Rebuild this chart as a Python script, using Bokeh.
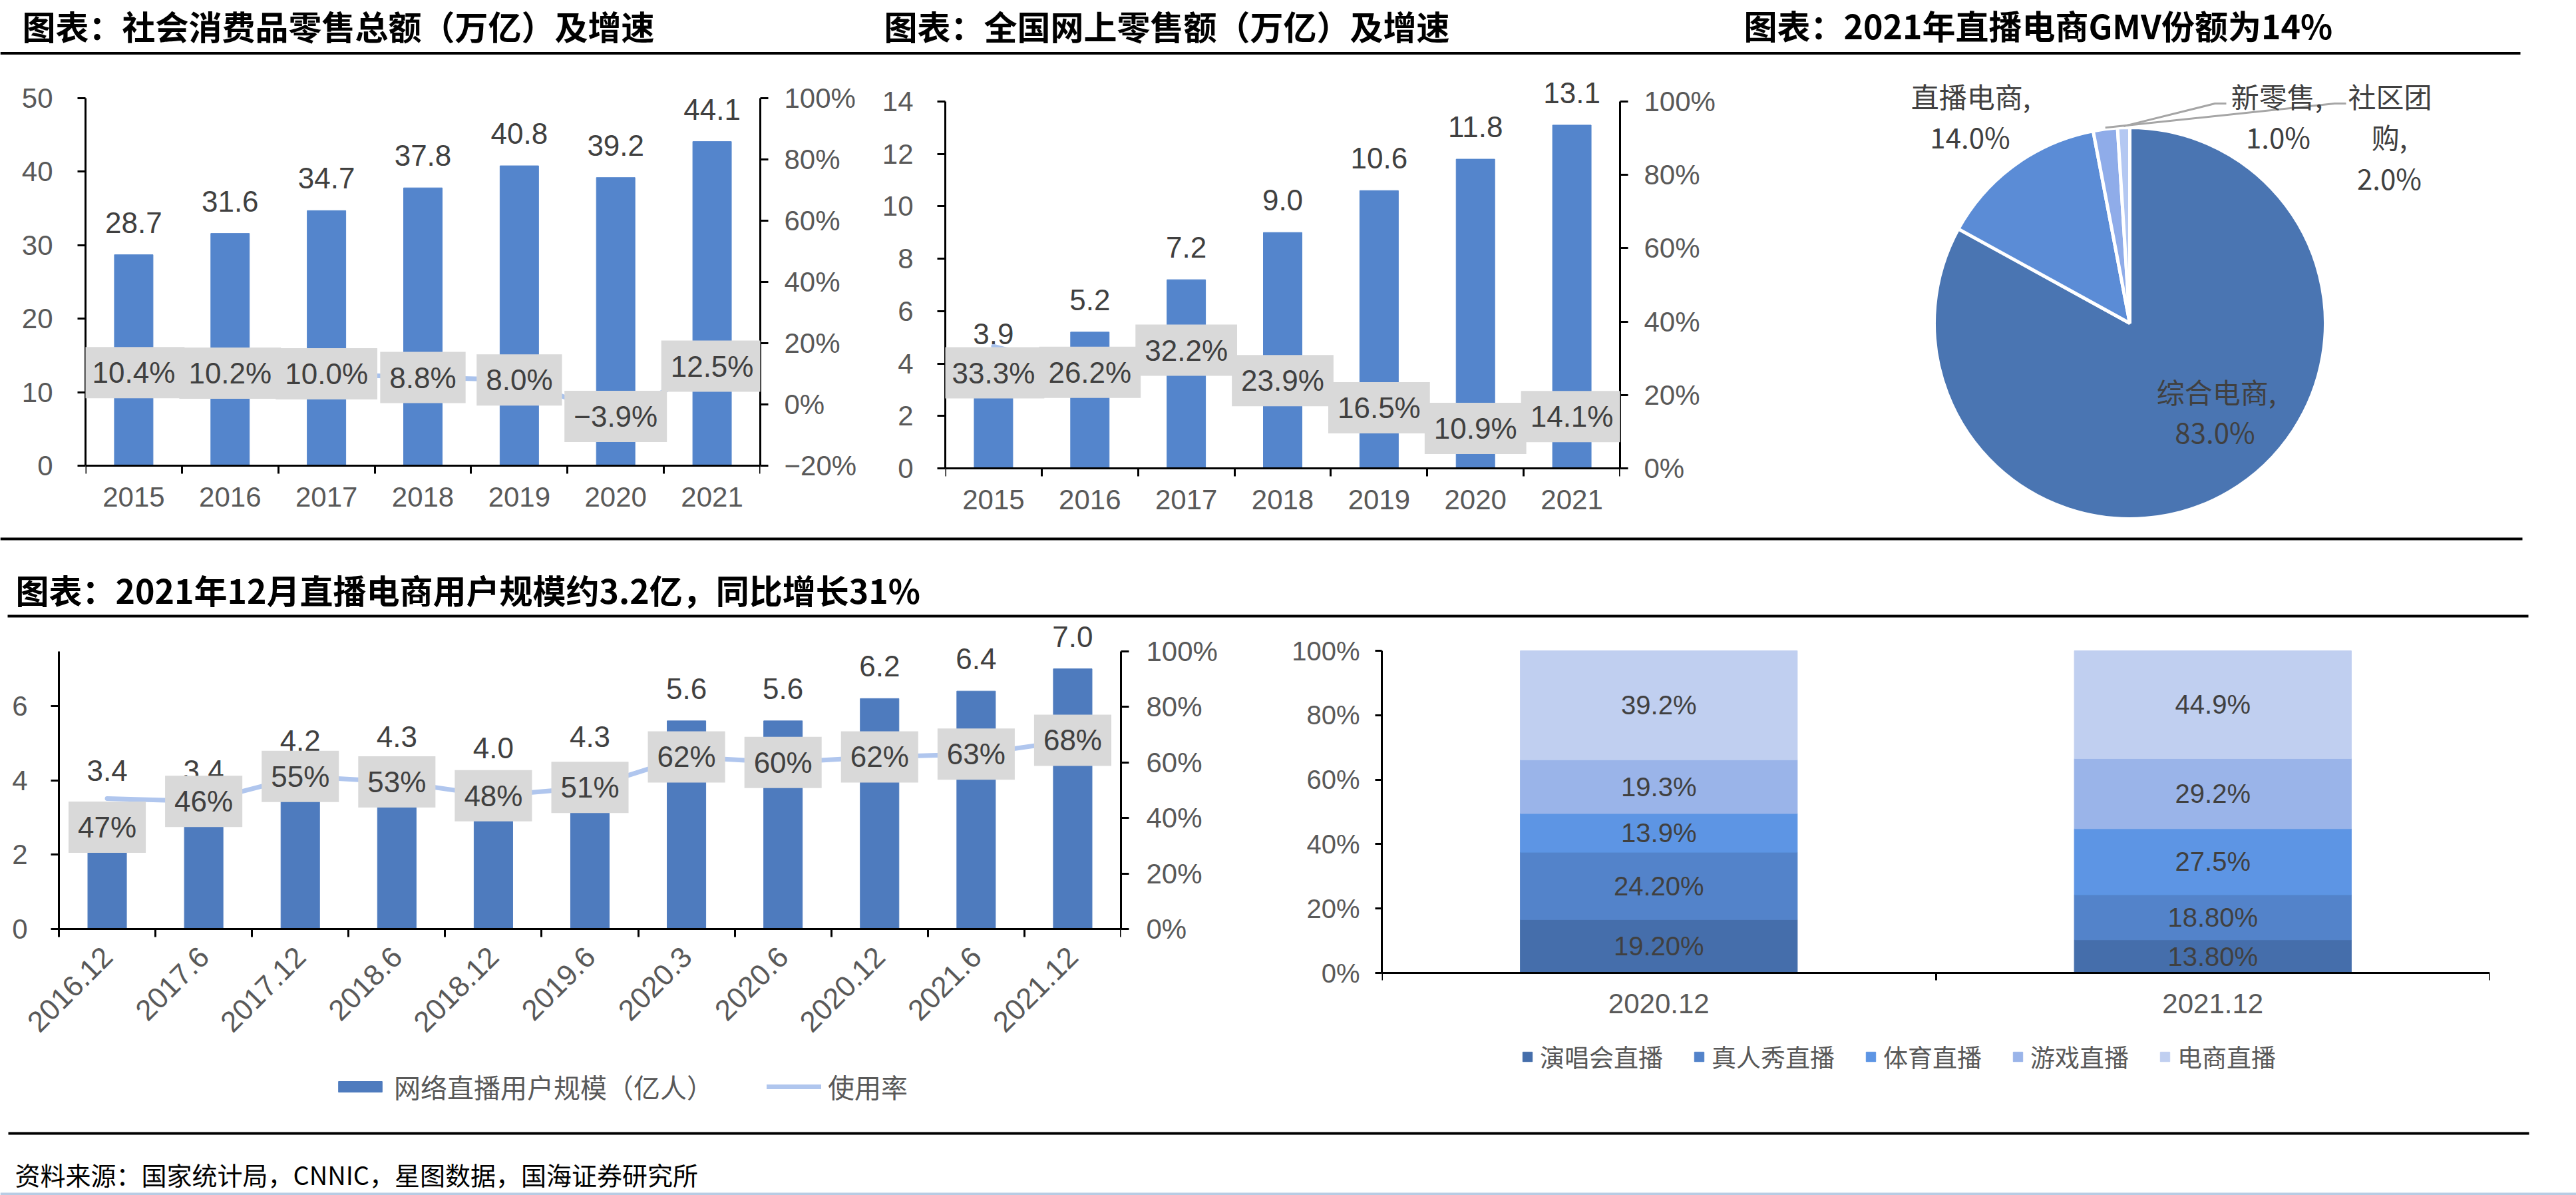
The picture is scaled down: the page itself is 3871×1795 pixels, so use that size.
import numpy as np
from bokeh.plotting import figure
from bokeh.models import (Range1d, LinearAxis, FixedTicker, ColumnDataSource,
                          LabelSet, Label, Legend, LegendItem)
from bokeh.layouts import column, row
from bokeh.embed import file_html
from bokeh.resources import INLINE
from bokeh.core.properties import value

# ------------------------------------------------------------------ data
retail_years = ["2015", "2016", "2017", "2018", "2019", "2020", "2021"]
retail_total = [28.7, 31.6, 34.7, 37.8, 40.8, 39.2, 44.1]          # 万亿
retail_growth = [10.4, 10.2, 10.0, 8.8, 8.0, -3.9, 12.5]           # %

online_years = ["2015", "2016", "2017", "2018", "2019", "2020", "2021"]
online_total = [3.9, 5.2, 7.2, 9.0, 10.6, 11.8, 13.1]              # 万亿
online_growth = [33.3, 26.2, 32.2, 23.9, 16.5, 10.9, 14.1]         # %

gmv_names = ["综合电商", "直播电商", "社区团购", "新零售"]
gmv_share = [83.0, 14.0, 2.0, 1.0]

live_periods = ["2016.12", "2017.6", "2017.12", "2018.6", "2018.12", "2019.6",
                "2020.3", "2020.6", "2020.12", "2021.6", "2021.12"]
live_users = [3.4, 3.4, 4.2, 4.3, 4.0, 4.3, 5.6, 5.6, 6.2, 6.4, 7.0]   # 亿人
live_usage = [47, 46, 55, 53, 48, 51, 62, 60, 62, 63, 68]             # %

mix_periods = ["2020.12", "2021.12"]
mix_series = ["演唱会直播", "真人秀直播", "体育直播", "游戏直播", "电商直播"]
mix_2020 = [19.2, 24.2, 13.9, 19.3, 39.2]
mix_2021 = [13.8, 18.8, 27.5, 29.2, 44.9]
mix_text_2020 = ["19.20%", "24.20%", "13.9%", "19.3%", "39.2%"]
mix_text_2021 = ["13.80%", "18.80%", "27.5%", "29.2%", "44.9%"]

titles_top = ["图表：社会消费品零售总额（万亿）及增速",
              "图表：全国网上零售额（万亿）及增速",
              "图表：2021年直播电商GMV份额为14%"]
title_bottom = "图表：2021年12月直播电商用户规模约3.2亿，同比增长31%"
source_note = "资料来源：国家统计局，CNNIC，星图数据，国海证券研究所"

# ------------------------------------------------------------------ style
NUM_FONT = "Liberation Sans"
CJK_FONT = "Noto Sans CJK SC"
TICK_GRAY = "#595959"
LABEL_GRAY = "#404040"
BOX_GRAY = "#D9D9D9"
PAGE_W = 3871


def pixel_range(v0, px0, v1, px1, height):
    """Range whose values v0/v1 land at pixel rows px0/px1 (from top) of a
    frame that fills the whole figure height."""
    scale = (px0 - px1) / (v1 - v0)
    return Range1d(v0 - (height - px0) / scale, v1 + px1 / scale)


def base_fig(width, height, left, right, x_range, y_range):
    p = figure(width=width, height=height, x_range=x_range, y_range=y_range,
               output_backend="svg", toolbar_location=None, title=None,
               min_border_left=left, min_border_right=width - right,
               min_border_top=0, min_border_bottom=0)
    p.xgrid.visible = False
    p.ygrid.visible = False
    p.outline_line_color = None
    return p


def style_axis(ax, size, standoff, tick_out=12):
    ax.axis_line_color = "black"
    ax.axis_line_width = 3
    ax.major_tick_in = 0
    ax.major_tick_out = tick_out
    ax.major_tick_line_color = "black"
    ax.major_tick_line_width = 3
    ax.minor_tick_in = 0
    ax.minor_tick_out = 0
    ax.major_label_text_font = NUM_FONT
    ax.major_label_text_font_size = f"{size}px"
    ax.major_label_text_color = TICK_GRAY
    ax.major_label_standoff = standoff


def cat_x_axis(p, cats, size, standoff, tick_len):
    n = len(cats)
    xs = [i + 0.5 for i in range(n)]
    ax = p.xaxis[0]
    ax.ticker = FixedTicker(ticks=xs, minor_ticks=list(range(n + 1)))
    ax.major_label_overrides = {x: c for x, c in zip(xs, cats)}
    style_axis(ax, size, standoff, tick_out=0)
    ax.major_tick_line_color = None
    ax.minor_tick_out = tick_len
    ax.minor_tick_line_color = "black"
    ax.minor_tick_line_width = 3
    ax.fixed_location = 0
    ax.bounds = (0, n)
    return xs


def pct_text(v, fmt="{:.1f}"):
    return (fmt.format(v) + "%").replace("-", "−")


def combo_chart(cats, bars, rates, cfg):
    n = len(cats)
    h = cfg["h"]
    y_top = cfg["y_ticks"][-1]
    free_left = cfg.get("free_left", False)
    if free_left:
        # frame reaches the figure's left edge; the value axis sits at x = 0
        unit = (cfg["right"] - cfg["left"]) / n
        x_range = Range1d(-cfg["left"] / unit, n)
        left_border = 0
    else:
        x_range = Range1d(0, n)
        left_border = cfg["left"]
    p = base_fig(cfg["w"], h, left_border, cfg["right"], x_range,
                 pixel_range(0, cfg["px_zero"], y_top, cfg["px_ytop"], h))
    r0, r1 = cfg["r_ticks"][0], cfg["r_ticks"][-1]
    p.extra_y_ranges = {"pct": pixel_range(r0, cfg["px_zero"], r1, cfg["px_top"], h)}
    xs = cat_x_axis(p, cats, cfg["xfs"], cfg["x_standoff"], 12)
    if cfg.get("rotate"):
        p.xaxis[0].major_label_orientation = np.pi / 4

    ya = p.yaxis[0]
    ya.ticker = FixedTicker(ticks=cfg["y_ticks"])
    ya.bounds = (0, cfg["y_axis_top"])
    style_axis(ya, cfg["yfs"], cfg["l_standoff"], tick_out=12)
    if free_left:
        ya.fixed_location = 0

    ra = LinearAxis(y_range_name="pct", ticker=FixedTicker(ticks=cfg["r_ticks"]))
    ra.major_label_overrides = {t: pct_text(t, "{:d}") for t in cfg["r_ticks"]}
    ra.bounds = (r0, r1)
    style_axis(ra, cfg["yfs"], cfg["r_standoff"], tick_out=12)
    p.add_layout(ra, "right")

    src = ColumnDataSource(dict(x=xs, v=bars, r=rates,
                                vt=[f"{v:.1f}" for v in bars]))
    rb = p.vbar(x="x", top="v", width=0.4, source=src,
                fill_color=cfg["bar_color"], line_color=cfg["bar_color"])
    rl = p.line(x="x", y="r", source=src, y_range_name="pct",
                line_color=cfg["line_color"], line_width=7,
                line_cap="round", line_join="round")

    p.add_layout(LabelSet(x="x", y="v", text="vt", source=src,
                          text_align="center", text_baseline="alphabetic",
                          y_offset=33, text_font=value(NUM_FONT),
                          text_font_size="44px", text_color=LABEL_GRAY))
    shifts = cfg.get("shift", {})
    for i, (x, r) in enumerate(zip(xs, rates)):
        p.add_layout(Label(x=x, y=r, y_range_name="pct",
                           text=pct_text(r, cfg["r_fmt"]),
                           y_offset=shifts.get(i, 0),
                           text_align="center", text_baseline="middle",
                           text_font=NUM_FONT, text_font_size="44px",
                           text_color=LABEL_GRAY,
                           background_fill_color=BOX_GRAY, padding=14))
    return p, rb, rl


def canvas_fig(width, height, y_down=True):
    yr = Range1d(height, 0) if y_down else Range1d(0, height)
    p = figure(width=width, height=height, x_range=Range1d(0, width),
               y_range=yr, output_backend="svg",
               toolbar_location=None, title=None, x_axis_type=None,
               y_axis_type=None, min_border=0)
    p.outline_line_color = None
    p.xgrid.visible = False
    p.ygrid.visible = False
    return p


# ------------------------------------------------------------------ header 1
h1 = canvas_fig(PAGE_W, 85)
h1.text(x=[33, 1328, 2620], y=[37, 37, 36], text=titles_top,
        text_baseline="middle", text_align="left",
        text_font=value(CJK_FONT), text_font_style="bold",
        text_font_size="50px", text_color="black")
h1.segment(x0=[0], y0=[79.5], x1=[3787], y1=[79.5], line_color="black", line_width=4)

# ------------------------------------------------------------------ chart 1
fig1, _, _ = combo_chart(retail_years, retail_total, retail_growth, dict(
    w=1290, h=715, left=128, right=1143, px_zero=614, px_ytop=62, px_top=62,
    y_ticks=[0, 10, 20, 30, 40, 50], y_axis_top=50,
    r_ticks=[-20, 0, 20, 40, 60, 80, 100], xfs=42, yfs=42,
    x_standoff=20, l_standoff=37, r_standoff=24, r_fmt="{:.1f}",
    bar_color="#5485CC", line_color="#A9C2EC"))

# ------------------------------------------------------------------ chart 2
fig2, _, _ = combo_chart(online_years, online_total, online_growth, dict(
    w=1290, h=715, left=130, right=1144, px_zero=618, px_ytop=67, px_top=67,
    y_ticks=[0, 2, 4, 6, 8, 10, 12, 14], y_axis_top=14,
    r_ticks=[0, 20, 40, 60, 80, 100], xfs=42, yfs=42,
    x_standoff=20, l_standoff=36, r_standoff=24, r_fmt="{:.1f}",
    shift={0: -40}, bar_color="#5485CC", line_color="#A9C2EC"))

# ------------------------------------------------------------------ pie
fig3 = canvas_fig(1291, 715, y_down=False)
pie_cx, pie_cy, pie_r = 620, 315, 294
frac = np.array(gmv_share) / np.sum(gmv_share)
cum = np.concatenate([[0.0], np.cumsum(frac)])
pie_src = ColumnDataSource(dict(
    name=gmv_names, share=gmv_share,
    start=np.pi / 2 - 2 * np.pi * cum[1:],
    end=np.pi / 2 - 2 * np.pi * cum[:-1],
    color=["#4A75B2", "#5B8CD6", "#8FACE9", "#B4C8F2"]))
fig3.wedge(x=pie_cx, y=pie_cy, radius=pie_r, start_angle="start",
           end_angle="end", fill_color="color", line_color="white",
           line_width=5, source=pie_src)


def loc(X, Y):  # page pixel -> pie canvas coords
    return X - 2580, 800 - Y


mid = np.pi / 2 - 2 * np.pi * (cum[:-1] + cum[1:]) / 2
edge = [(pie_cx + pie_r * np.cos(a), pie_cy + pie_r * np.sin(a)) for a in mid]
lead_xs, lead_ys = [], []
for idx, (lx, ly) in zip([3, 2], [(3345, 155), (3525, 155)]):
    ax_, ay_ = loc(lx, ly)
    ex, ey = loc(lx - 17, ly)
    lead_xs.append([ax_, ex, edge[idx][0]])
    lead_ys.append([ay_, ey, edge[idx][1] + 2])
fig3.multi_line(xs=lead_xs, ys=lead_ys, line_color="#A6A6A6", line_width=3)

pie_text, pie_x, pie_y = [], [], []
pie_layout = {
    "综合电商": [(3330, 587), (3328, 647)],
    "直播电商": [(2961, 143), (2960, 204)],
    "新零售": [(3421, 143), (3423, 204)],
    "社区团购": [(3591, 143), (3590, 204), (3590, 266)],
}
for name, share in zip(gmv_names, gmv_share):
    if len(pie_layout[name]) == 3:
        lines = [name[:3], name[3:] + ",", f"{share:.1f}%"]
    else:
        lines = [name + ",", f"{share:.1f}%"]
    for t, (X, Y) in zip(lines, pie_layout[name]):
        lx, ly = loc(X, Y)
        pie_text.append(t)
        pie_x.append(lx)
        pie_y.append(ly)
fig3.text(x=pie_x, y=pie_y, text=pie_text, text_align="center",
          text_baseline="middle", text_font=value(CJK_FONT),
          text_font_size="42px", text_color=LABEL_GRAY)

# ------------------------------------------------------------------ header 2
h2 = canvas_fig(PAGE_W, 130)
h2.segment(x0=[0, 11], y0=[9, 125], x1=[3790, 3799], y1=[9, 125],
           line_color="black", line_width=4)
h2.text(x=[23], y=[84], text=[title_bottom], text_baseline="middle",
        text_font=value(CJK_FONT), text_font_style="bold",
        text_font_size="50px", text_color="black")

# ------------------------------------------------------------------ chart 4
fig4, rb4, rl4 = combo_chart(live_periods, live_users, live_usage, dict(
    w=1850, h=760, left=88, right=1684, px_zero=465, px_ytop=130, px_top=48,
    y_ticks=[0, 2, 4, 6], y_axis_top=7.47,
    r_ticks=[0, 20, 40, 60, 80, 100], xfs=44, yfs=42,
    x_standoff=22, l_standoff=35, r_standoff=26, r_fmt="{:.0f}",
    rotate=True, shift={0: -43}, free_left=True,
    bar_color="#4E7BBE", line_color="#B0C6EE"))
leg4 = Legend(items=[LegendItem(label="网络直播用户规模（亿人）", renderers=[rb4]),
                     LegendItem(label="使用率", renderers=[rl4])],
              location=(500, 29), orientation="horizontal",
              glyph_width=82, glyph_height=20, label_standoff=10, spacing=80,
              padding=0, margin=0, border_line_color=None,
              background_fill_alpha=0, label_text_font=CJK_FONT,
              label_text_font_size="40px", label_text_color=TICK_GRAY)
fig4.add_layout(leg4)

# ------------------------------------------------------------------ chart 5
fig5 = base_fig(2021, 760, 226, 1891, Range1d(0, 2), pixel_range(0, 531, 100, 47, 760))
xs5 = cat_x_axis(fig5, mix_periods, 42, 20, 11)
ya5 = fig5.yaxis[0]
ya5.ticker = FixedTicker(ticks=[0, 20, 40, 60, 80, 100])
ya5.major_label_overrides = {t: f"{t}%" for t in [0, 20, 40, 60, 80, 100]}
ya5.bounds = (0, 100)
style_axis(ya5, 40, 23, tick_out=10)

mix_raw = [mix_2020, mix_2021]
mix_norm = [np.array(v) / np.sum(v) * 100 for v in mix_raw]
cols5 = dict(x=xs5)
for k, s in enumerate(mix_series):
    cols5[s] = [mix_norm[0][k], mix_norm[1][k]]
src5 = ColumnDataSource(cols5)
mix_colors = ["#456EAB", "#5383CA", "#5D95E4", "#9AB4E9", "#C0CFF0"]
rs5 = fig5.vbar_stack(mix_series, x="x", width=0.5, color=mix_colors, source=src5)

lx5, ly5, lt5 = [], [], []
for x, norm, texts in zip(xs5, mix_norm, [mix_text_2020, mix_text_2021]):
    c = np.concatenate([[0.0], np.cumsum(norm)])
    for k in range(len(norm)):
        lx5.append(x)
        ly5.append((c[k] + c[k + 1]) / 2)
        lt5.append(texts[k])
fig5.add_layout(LabelSet(x="x", y="y", text="t",
                         source=ColumnDataSource(dict(x=lx5, y=ly5, t=lt5)),
                         text_align="center", text_baseline="middle",
                         text_font=value(NUM_FONT), text_font_size="40px",
                         text_color=LABEL_GRAY))
leg5 = Legend(items=[LegendItem(label=s, renderers=[r]) for s, r in zip(mix_series, rs5)],
              location=(210, 76), orientation="horizontal",
              glyph_width=18, glyph_height=18, label_standoff=10, spacing=45,
              padding=0, margin=0, border_line_color=None,
              background_fill_alpha=0, label_text_font=CJK_FONT,
              label_text_font_size="37px", label_text_color=TICK_GRAY)
fig5.add_layout(leg5)

# ------------------------------------------------------------------ footer
ft = canvas_fig(PAGE_W, 105)
ft.segment(x0=[12], y0=[12], x1=[3800], y1=[12], line_color="black", line_width=4)
ft.segment(x0=[0], y0=[103], x1=[PAGE_W], y1=[103], line_color="#B8CCE4", line_width=4)
ft.text(x=[22], y=[73], text=[source_note], text_baseline="middle",
        text_font=value(CJK_FONT), text_font_size="38px", text_color="black")

page = column(h1, row(fig1, fig2, fig3, spacing=0), h2,
              row(fig4, fig5, spacing=0), ft, spacing=0)

open("out.html", "w").write(file_html(page, INLINE))
